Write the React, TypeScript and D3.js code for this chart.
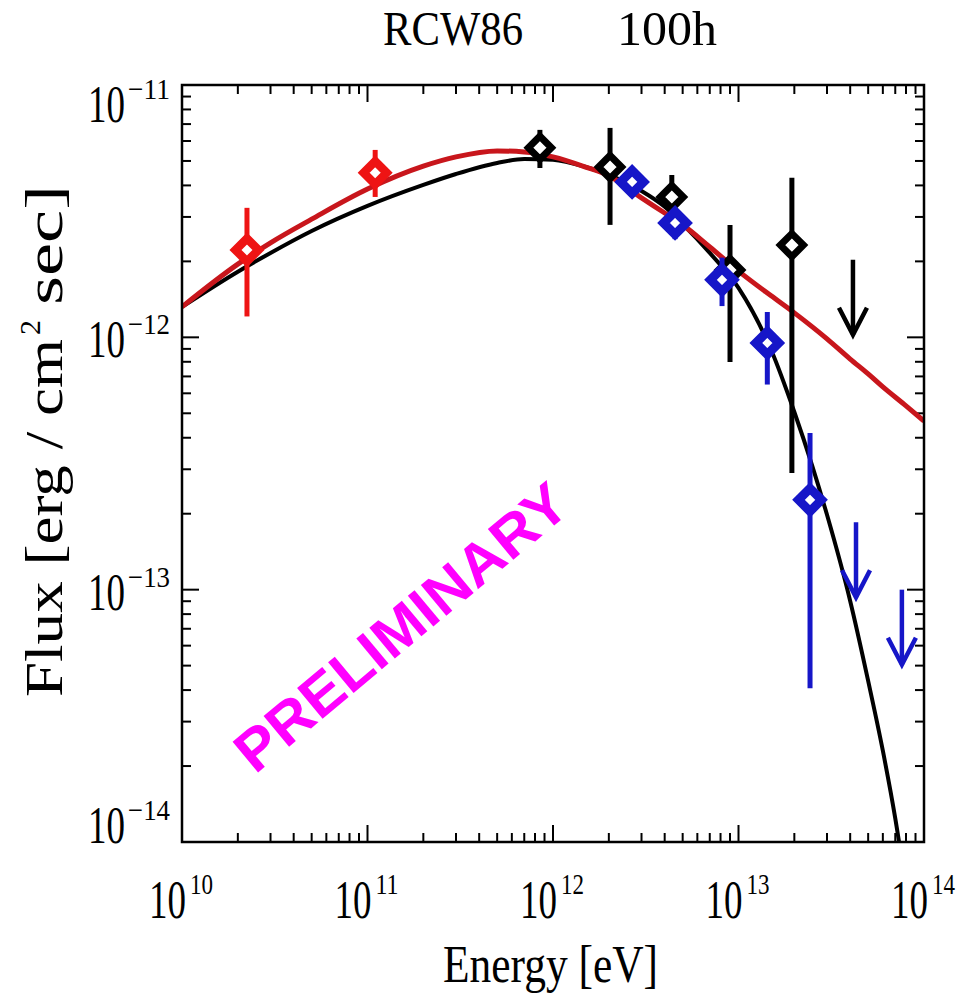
import React from "react";
import * as d3 from "d3";

// ---- data (energy in eV, flux in erg / cm^2 / s) ----
const redE = [2.24e10, 1.1e11];
const redF = [2.22e-12, 4.49e-12];
const redLo = [1.21e-12, 3.6e-12];
const redHi = [3.26e-12, 5.53e-12];

const blackE = [8.5e11, 2.03e12, 4.37e12, 9.0e12, 1.94e13];
const blackF = [5.64e-12, 4.73e-12, 3.6e-12, 1.85e-12, 2.32e-12];
const blackLo = [4.69e-12, 2.79e-12, 2.92e-12, 7.98e-13, 2.9e-13];
const blackHi = [6.64e-12, 6.76e-12, 4.4e-12, 2.79e-12, 4.29e-12];
const blackUlE = [4.14e13];
const blackUlF = [2.03e-12];

const blueE = [2.67e12, 4.55e12, 8.15e12, 1.43e13, 2.43e13];
const blueF = [4.13e-12, 2.84e-12, 1.69e-12, 9.5e-13, 2.27e-13];
const blueLo = [3.7e-12, 2.45e-12, 1.33e-12, 6.5e-13, 4.07e-14];
const blueHi = [4.6e-12, 3.25e-12, 2.07e-12, 1.26e-12, 4.18e-13];
const blueUlE = [4.3e13, 7.6e13];
const blueUlF = [1.85e-13, 1.0e-13];

const redCurveE = [1e10, 2e10, 3e10, 5e10, 1e11, 2e11, 3e11, 5e11, 7e11, 1e12, 1.5e12, 2e12, 3e12, 4e12, 5e12, 7e12, 1e13, 1.5e13, 2e13, 2.5e13, 3e13, 4e13, 5e13, 6e13, 8e13, 1e14];
const redCurveF = [1.32e-12, 1.95e-12, 2.37e-12, 2.94e-12, 3.87e-12, 4.77e-12, 5.19e-12, 5.48e-12, 5.43e-12, 5.19e-12, 4.73e-12, 4.37e-12, 3.57e-12, 3.11e-12, 2.79e-12, 2.28e-12, 1.83e-12, 1.46e-12, 1.25e-12, 1.10e-12, 9.86e-13, 8.2e-13, 7.16e-13, 6.36e-13, 5.35e-13, 4.66e-13];

const blackCurveE = [1e10, 2e10, 3e10, 5e10, 1e11, 2e11, 3e11, 5e11, 7e11, 1e12, 1.5e12, 2e12, 3e12, 4e12, 5e12, 7e12, 1e13, 1.5e13, 2e13, 2.5e13, 3e13, 4e13, 5e13, 6e13, 7e13, 8e13];
const blackCurveF = [1.32e-12, 1.82e-12, 2.16e-12, 2.64e-12, 3.32e-12, 4.02e-12, 4.44e-12, 4.91e-12, 5.09e-12, 5.05e-12, 4.73e-12, 4.40e-12, 3.80e-12, 3.29e-12, 2.81e-12, 2.16e-12, 1.57e-12, 8.91e-13, 5.06e-13, 3.09e-13, 1.98e-13, 9.02e-14, 4.35e-14, 2.30e-14, 1.24e-14, 6.57e-15];

const xTickValues = [1e10, 1e11, 1e12, 1e13, 1e14];
const xTickExps = ["10", "11", "12", "13", "14"];
const yTickValues = [1e-11, 1e-12, 1e-13, 1e-14];
const yTickExps = ["\u221211", "\u221212", "\u221213", "\u221214"];

const title1 = "RCW86";
const title2 = "100h";
const xTitle = "Energy [eV]";
const watermark = "PRELIMINARY";

// ---- layout ----
const W = 961, H = 995;
const L = 182, R = 924, T = 85, B = 842;
const SERIF = "'Liberation Serif', 'Times New Roman', serif";

const RED_PT = "#ee1414";
const RED_LINE = "#c8161c";
const BLUE = "#1616c8";
const BLACK = "#000";

export default function App() {
  const x = d3.scaleLog().domain([1e10, 1e14]).range([L, R]);
  const y = d3.scaleLog().domain([1e-14, 1e-11]).range([B, T]);

  const xTicks = x.ticks();
  const yTicks = y.ticks();
  const isMajor = (v: number) => Math.abs(Math.log10(v) - Math.round(Math.log10(v))) < 1e-6;

  const line = d3.line<[number, number]>()
    .x((d) => x(d[0]))
    .y((d) => y(d[1]))
    .curve(d3.curveMonotoneX);

  const redPath = line(redCurveE.map((e, i) => [e, redCurveF[i]]));
  const blackPath = line(blackCurveE.map((e, i) => [e, blackCurveF[i]]));

  const S = 11.5; // diamond half-size
  const diamond = `M0,${-S} L${S},0 L0,${S} L${-S},0 Z`;

  const points = (E: number[], F: number[], lo: number[], hi: number[], color: string, sw: number, key: string) => (
    <g key={key}>
      {E.map((e, i) => (
        <line key={"e" + i} x1={x(e)} x2={x(e)} y1={y(lo[i])} y2={y(hi[i])} stroke={color} strokeWidth={5} />
      ))}
      {E.map((e, i) => (
        <path key={"d" + i} d={diamond} transform={`translate(${x(e)},${y(F[i])})`} fill="#fff" stroke={color} strokeWidth={sw} strokeLinejoin="miter" />
      ))}
    </g>
  );

  const ARROW = 75;
  const arrows = (E: number[], F: number[], color: string, key: string) => (
    <g key={key} stroke={color} strokeWidth={4.5} fill="none">
      {E.map((e, i) => {
        const cx = x(e), top = y(F[i]), tip = top + ARROW;
        return (
          <g key={i}>
            <line x1={cx} x2={cx} y1={top} y2={tip} />
            <polyline points={`${cx - 14},${tip - 27} ${cx},${tip} ${cx + 14},${tip - 27}`} strokeLinejoin="miter" />
          </g>
        );
      })}
    </g>
  );

  return (
    <svg width={W} height={H} style={{ position: "absolute", left: 0, top: 0, background: "#fff" }}>
      <defs>
        <clipPath id="plotClip">
          <rect x={L} y={T} width={R - L} height={B - T} />
        </clipPath>
      </defs>
      <rect x={0} y={0} width={W} height={H} fill="#fff" />

      {/* title */}
      <text x={383} y={45} fontFamily={SERIF} fontSize={48} textLength={140} lengthAdjust="spacingAndGlyphs">{title1}</text>
      <text x={617} y={45} fontFamily={SERIF} fontSize={48} textLength={100} lengthAdjust="spacingAndGlyphs">{title2}</text>

      {/* ticks */}
      <g stroke="#000" strokeWidth={2}>
        {xTicks.map((v, i) => {
          const len = isMajor(v) ? 17 : 9;
          const px = x(v);
          return (
            <g key={"xt" + i}>
              <line x1={px} x2={px} y1={B} y2={B - len} />
              <line x1={px} x2={px} y1={T} y2={T + len} />
            </g>
          );
        })}
        {yTicks.map((v, i) => {
          const len = isMajor(v) ? 17 : 9;
          const py = y(v);
          return (
            <g key={"yt" + i}>
              <line x1={L} x2={L + len} y1={py} y2={py} />
              <line x1={R} x2={R - len} y1={py} y2={py} />
            </g>
          );
        })}
      </g>

      {/* curves */}
      <g clipPath="url(#plotClip)" fill="none">
        <path d={blackPath || ""} stroke={BLACK} strokeWidth={4} />
        <path d={redPath || ""} stroke={RED_LINE} strokeWidth={5} />
      </g>

      {/* data */}
      {points(redE, redF, redLo, redHi, RED_PT, 8.5, "red")}
      {points(blackE, blackF, blackLo, blackHi, BLACK, 7, "black")}
      {arrows(blackUlE, blackUlF, BLACK, "blackUL")}
      {points(blueE, blueF, blueLo, blueHi, BLUE, 9, "blue")}
      {arrows(blueUlE, blueUlF, BLUE, "blueUL")}

      {/* frame */}
      <rect x={L} y={T} width={R - L} height={B - T} fill="none" stroke="#000" strokeWidth={2.5} />

      {/* x tick labels */}
      {xTickValues.map((v, i) => {
        const start = x(v) - 33;
        return (
          <text key={"xl" + i} fontFamily={SERIF} fontSize={54}>
            <tspan x={start} y={918} textLength={37} lengthAdjust="spacingAndGlyphs">10</tspan>
            <tspan x={start + 41} y={894} fontSize={30} textLength={23} lengthAdjust="spacingAndGlyphs">{xTickExps[i]}</tspan>
          </text>
        );
      })}

      {/* y tick labels */}
      {yTickValues.map((v, i) => {
        const base = Math.min(843, Math.max(122, y(v) + 20));
        return (
          <text key={"yl" + i} fontFamily={SERIF} fontSize={52}>
            <tspan x={88} y={base} textLength={37} lengthAdjust="spacingAndGlyphs">10</tspan>
            <tspan x={128} y={base - 23} fontSize={30} textLength={42} lengthAdjust="spacingAndGlyphs">{yTickExps[i]}</tspan>
          </text>
        );
      })}

      {/* axis titles */}
      <text x={443} y={982} fontFamily={SERIF} fontSize={52} textLength={215} lengthAdjust="spacingAndGlyphs">{xTitle}</text>
      <text transform="translate(62,697) rotate(-90)" fontFamily={SERIF} fontSize={52}>
        <tspan x={0} y={0} textLength={358} lengthAdjust="spacingAndGlyphs">Flux [erg / cm</tspan>
        <tspan x={362} y={-22} fontSize={30} textLength={15} lengthAdjust="spacingAndGlyphs">2</tspan>
        <tspan x={392} y={0} textLength={120} lengthAdjust="spacingAndGlyphs">sec]</tspan>
      </text>

      {/* watermark */}
      <text
        transform="translate(255,775) rotate(-39.8)"
        fontFamily="'Liberation Sans', Arial, sans-serif"
        fontWeight="bold"
        fontSize={58}
        fill="#ff00ff"
        textLength={414}
        lengthAdjust="spacingAndGlyphs"
      >
        {watermark}
      </text>
    </svg>
  );
}
